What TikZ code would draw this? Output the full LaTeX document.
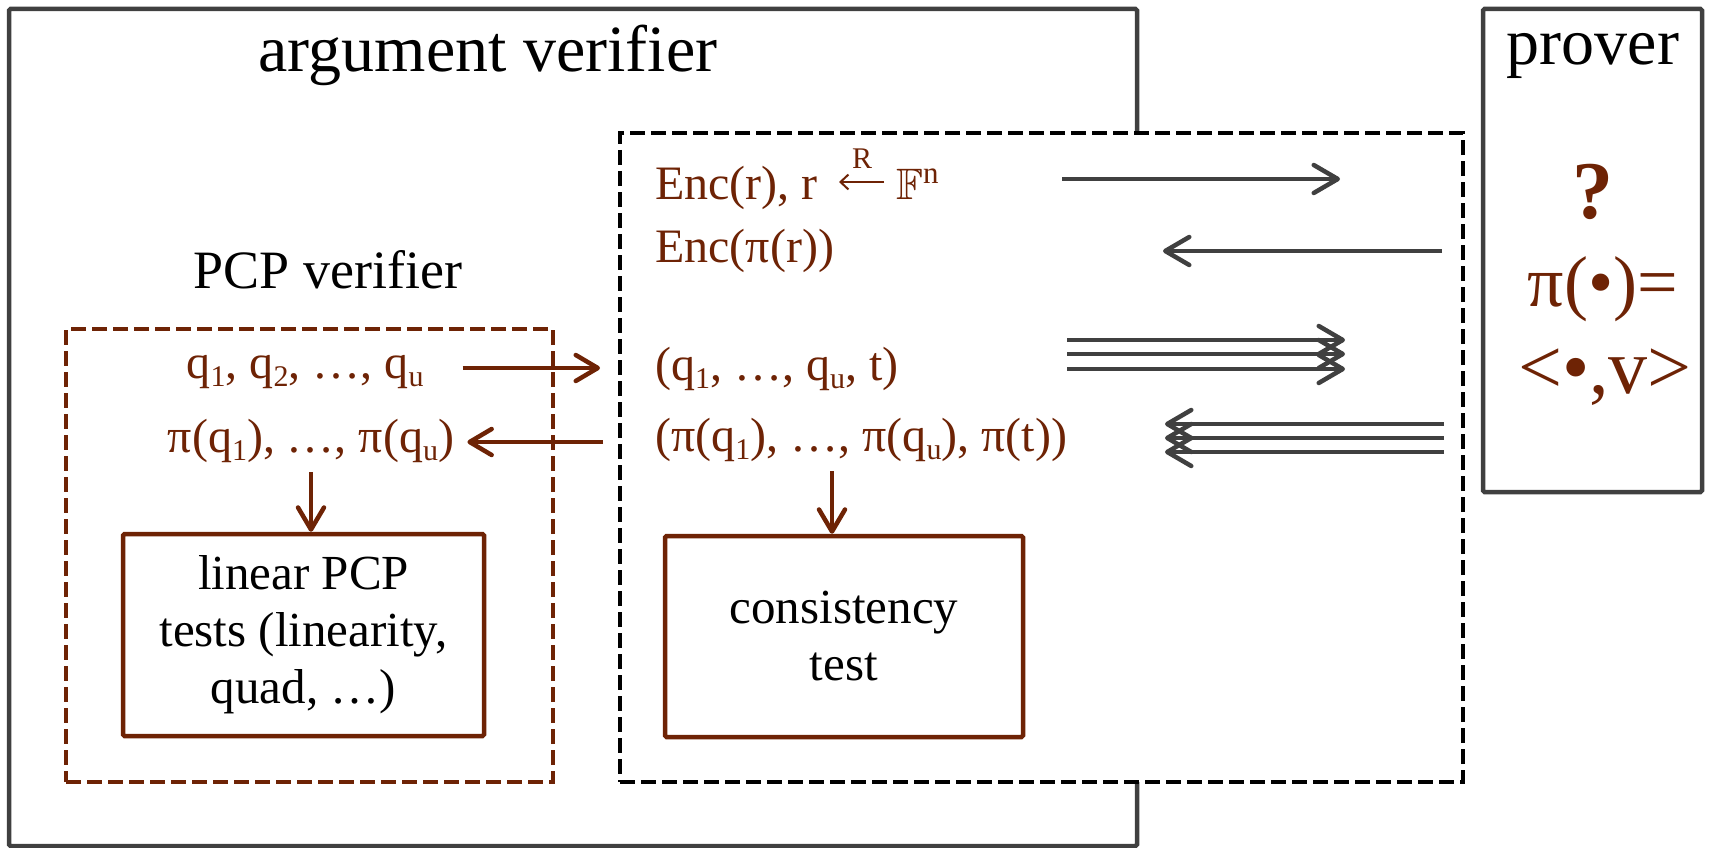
\documentclass[tikz,border=0pt]{standalone}
\usepackage{amsmath}
\usepackage{amssymb}
\usepackage{fontspec}
\setmainfont{Liberation Serif}
\usetikzlibrary{arrows.meta}

\definecolor{brn}{RGB}{110,35,5}
\definecolor{frm}{RGB}{64,64,64}

\newcommand\fsz[2]{\fontsize{#1}{#2}\selectfont}
\newcommand\sub[1]{\raisebox{-8pt}{\fsz{30}{30}#1}}

\begin{document}
\begin{tikzpicture}[x=1pt,y=-1pt,
  frmbox/.style={draw=frm, line width=4.5pt, rounded corners=1.5pt, inner sep=0pt},
  dashbox/.style={draw=black, line width=4.5pt, dash pattern=on 15pt off 6pt, fill=white, inner sep=0pt},
  pcpbox/.style={draw=brn, line width=4.5pt, dash pattern=on 15pt off 6pt, inner sep=0pt},
  testbox/.style={draw=brn, line width=4.5pt, rounded corners=1.5pt, align=center, font=\fsz{49}{57}},
  rowtxt/.style={text=brn, font=\fsz{48}{58}, text height=20pt, text depth=0pt, inner sep=3pt},
  ttl/.style={font=\fsz{66}{70}, anchor=base},
  garrow/.style={draw=frm, line width=4.5pt, -{Straight Barb[length=24pt,width=28pt,round]}},
  barrow/.style={draw=brn, line width=4.5pt, -{Straight Barb[length=22pt,width=26pt,round]}},
  samparrow/.style={draw=brn, line width=2pt, -{Straight Barb[length=8pt,width=15pt]}},
]
\useasboundingbox (0,0) rectangle (1710,848);

% frames
\node[frmbox, minimum width=1128pt, minimum height=837pt] (avbox) at (573,427.5) {};
\node[frmbox, minimum width=219pt, minimum height=483pt] (pvbox) at (1592.5,250.5) {};
\node[dashbox, minimum width=843pt, minimum height=649pt] (chk) at (1041.5,457.5) {};
\node[pcpbox, minimum width=487pt, minimum height=453pt] (pcp) at (309.5,555.5) {};

% test boxes
\node[testbox, minimum width=361pt, minimum height=202pt] (lin) at (303.5,635) {linear PCP\\tests (linearity,\\quad, …)};
\node[testbox, minimum width=358pt, minimum height=201pt] (cons) at (844,636.5) {consistency\\test};

% titles
\node[ttl] (avt) at (488,72) {argument verifier};
\node[ttl] (pvt) at (1593,65) {prover};
\node[ttl, font=\fsz{54}{60}] (pcpt) at (328,288) {PCP verifier};

% PCP verifier rows
\node[rowtxt, anchor=base] (qrow) at (305,378) {q\sub{1}, q\sub{2}, …, q\sub{u}};
\node[rowtxt, anchor=base] (pirow) at (311,452) {π(q\sub{1}), …, π(q\sub{u})};

% commitment rows: r sampled at random from F^n
\node[rowtxt, anchor=base west] (enc) at (652,199) {Enc(r), r};
\node[rowtxt, anchor=base west] (fld) at (893,199) {{\fsz{44}{44}$\mathbb{F}$}\raisebox{16pt}{\fsz{31}{31}n}};
\node[text=brn, font=\fsz{30}{30}, anchor=base, inner sep=0pt] (rlab) at (862,168) {R};
\coordinate (sampR) at (884,182);
\coordinate (sampL) at (839,182);
\draw[samparrow] (sampR) -- (sampL);
\node[rowtxt, anchor=base west] (encpi) at (652,262) {Enc(π(r))};
\node[rowtxt, anchor=base west] (qt) at (652,380) {(q\sub{1}, …, q\sub{u}, t)};
\node[rowtxt, anchor=base west] (pqt) at (652,451) {(π(q\sub{1}), …, π(q\sub{u}), π(t))};

% prover contents
\node[text=brn, font=\fsz{82}{82}\bfseries, anchor=base] (ask) at (1593,218) {?};
\node[text=brn, font=\fsz{72}{72}, anchor=base] (pidef) at (1603,306) {π(•)=};
\node[text=brn, font=\fsz{78}{78}, anchor=base] (ipv) at (1605,393) {<•,v>};

% brown connectors
\draw[barrow, shorten <=36pt, shorten >=52pt] (qrow.east) -- (qrow.east -| qt.west);
\draw[barrow, shorten <=49pt, shorten >=10pt] (pirow.east -| pqt.west) -- (pirow.east);
\draw[barrow, shorten <=17pt] (pirow.south) -- (pirow.south |- lin.north);
\coordinate (ctop) at ([xshift=-12pt]cons.north);
\draw[barrow, shorten <=17pt] (ctop |- pqt.south) -- (ctop);

% channel to and from the prover
\coordinate (o1) at (1062,179);
\coordinate (i1) at (1340,179);
\coordinate (i2) at (1442,251);
\coordinate (o2) at (1163,251);
\draw[garrow] (o1) -- (i1);
\draw[garrow] (i2) -- (o2);
\foreach \k/\yy in {a/340,b/354,c/369} {
  \coordinate (qs\k) at (1067,\yy);
  \coordinate (qe\k) at (1345,\yy);
  \draw[garrow] (qs\k) -- (qe\k);
}
\foreach \k/\yy in {a/424,b/438,c/452} {
  \coordinate (rs\k) at (1444,\yy);
  \coordinate (re\k) at (1165,\yy);
  \draw[garrow] (rs\k) -- (re\k);
}
\end{tikzpicture}
\end{document}
